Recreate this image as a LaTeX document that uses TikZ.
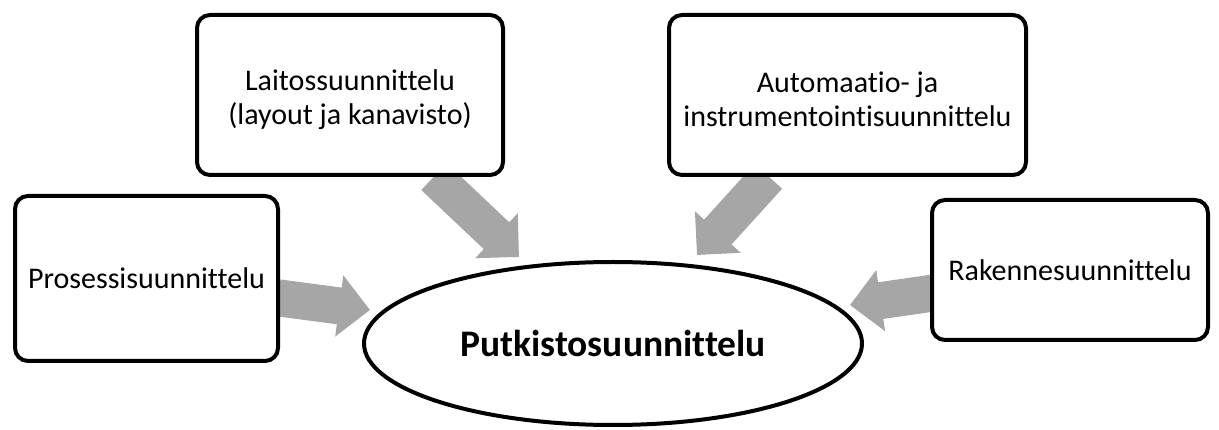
\documentclass[tikz,border=0pt]{standalone}
\usepackage{fontspec}
\setmainfont{Carlito}[Ligatures=CommonOff]
\usetikzlibrary{arrows.meta,shapes.geometric}
\definecolor{arrowgray}{RGB}{166,166,166}
\tikzset{
  box/.style={draw=black, line width=4pt, rounded corners=13pt, fill=white,
    align=center, inner sep=0pt, font=\fontsize{30}{34}\selectfont},
  oval/.style={draw=black, line width=4pt, ellipse, fill=white, inner sep=0pt,
    font=\fontsize{37.5}{44}\selectfont\bfseries},
  blockarrow/.style={draw=arrowgray, line width=37pt, line cap=butt,
    -{Triangle[width=60pt,length=31pt]}}
}
\begin{document}
\begin{tikzpicture}[x=1pt,y=-1pt]
\useasboundingbox (0,0) rectangle (1219,430);
% arrow end points
\coordinate (s1) at (278,297.8);
\coordinate (t1) at (370,310);
\coordinate (s2) at (434,176.6);
\coordinate (t2) at (519,257);
\coordinate (s3) at (768.4,176.3);
\coordinate (t3) at (697,255);
\coordinate (s4) at (935,292.8);
\coordinate (t4) at (850,305);
\draw[blockarrow] (s1) -- (t1);
\draw[blockarrow] (s2) -- (t2);
\draw[blockarrow] (s3) -- (t3);
\draw[blockarrow] (s4) -- (t4);
% nodes
\node[box, minimum width=263pt, minimum height=165pt] (pros) at (146.5,278.5) {Prosessisuunnittelu};
\node[box, minimum width=306pt, minimum height=160pt] (lait) at (350,95) {\rule{0pt}{30pt}Laitossuunnittelu\\(layout ja kanavisto)};
\node[box, minimum width=357pt, minimum height=160pt] (auto) at (847.5,95) {\rule{0pt}{30pt}Automaatio- ja\\instrumentointisuunnittelu};
\node[box, minimum width=276pt, minimum height=140pt] (rak) at (1070,270) {Rakennesuunnittelu};
\node[oval, minimum width=498pt, minimum height=163pt] (el) at (613,343.5) {Putkistosuunnittelu};
\end{tikzpicture}
\end{document}
